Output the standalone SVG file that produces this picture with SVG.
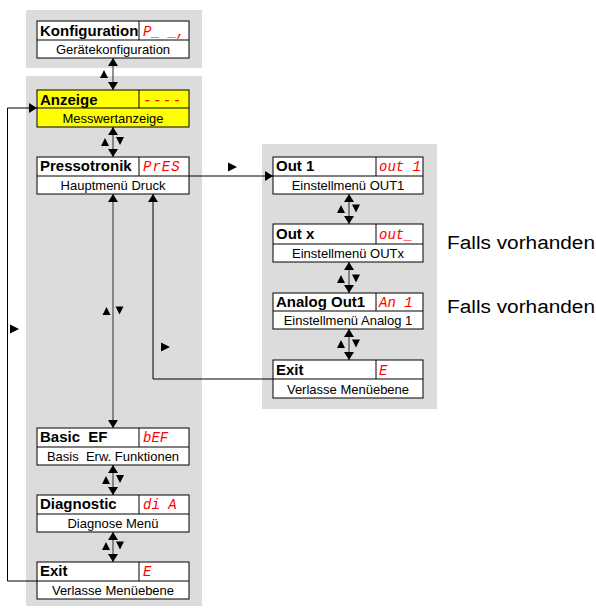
<svg xmlns="http://www.w3.org/2000/svg" width="596" height="614" viewBox="0 0 596 614">
<style>
.panel{fill:#dcdcdc}
.box{fill:#fff;stroke:#000;stroke-width:1}
.yel{fill:#ffff00;stroke:#000;stroke-width:1}
.div{stroke:#000;stroke-width:1;fill:none}
.t{font-family:"Liberation Sans",Arial,sans-serif;font-weight:bold;font-size:15px;fill:#000;white-space:pre}
.s{font-family:"Liberation Sans",Arial,sans-serif;font-size:13px;fill:#000;text-anchor:middle;white-space:pre}
.r{font-family:"Liberation Mono","DejaVu Sans Mono",monospace;font-style:italic;font-size:14px;fill:#ff0000;white-space:pre}
.note{font-family:"Liberation Sans",Arial,sans-serif;font-size:18px;fill:#000}
.vl{stroke:#555;stroke-width:1.3;fill:none}
.ln{stroke:#000;stroke-width:1;fill:none}
.tri{fill:#000}
</style>
<defs>
<marker id="ah" viewBox="0 0 8 10" refX="8" refY="5" markerWidth="8" markerHeight="10" markerUnits="userSpaceOnUse" orient="auto-start-reverse">
<path d="M0,0 L8,5 L0,10 z" fill="#000"/>
</marker>
<path id="tu" d="M0,-4 L4,4 L-4,4 z"/>
<path id="td" d="M0,4 L4,-4 L-4,-4 z"/>
<path id="tr" d="M-4,-4.5 L5,0 L-4,4.5 z"/>
</defs>

<rect class="panel" x="26" y="10" width="176" height="58"/>
<rect class="panel" x="26" y="76" width="176" height="530"/>
<rect class="panel" x="262" y="144" width="175" height="265"/>

<g id="connectors">
<line class="vl" x1="113" y1="58" x2="113" y2="90" marker-start="url(#ah)" marker-end="url(#ah)"/>
<line class="vl" x1="113" y1="127" x2="113" y2="157" marker-start="url(#ah)" marker-end="url(#ah)"/>
<line class="vl" x1="113" y1="194" x2="113" y2="428" marker-start="url(#ah)" marker-end="url(#ah)"/>
<line class="vl" x1="113" y1="465" x2="113" y2="495" marker-start="url(#ah)" marker-end="url(#ah)"/>
<line class="vl" x1="113" y1="532" x2="113" y2="562" marker-start="url(#ah)" marker-end="url(#ah)"/>
<line class="vl" x1="349" y1="194" x2="349" y2="224" marker-start="url(#ah)" marker-end="url(#ah)"/>
<line class="vl" x1="349" y1="262" x2="349" y2="293" marker-start="url(#ah)" marker-end="url(#ah)"/>
<line class="vl" x1="349" y1="329" x2="349" y2="360" marker-start="url(#ah)" marker-end="url(#ah)"/>
<line class="ln" x1="189" y1="176" x2="273" y2="176" marker-end="url(#ah)"/>
<polyline class="ln" points="273,379 153,379 153,194" marker-end="url(#ah)"/>
<polyline class="ln" points="37,581 7.5,581 7.5,108 37,108" marker-end="url(#ah)"/>
<g class="tri">
<use href="#tu" x="104" y="74"/>
<use href="#tu" x="105" y="142"/><use href="#td" x="120" y="141"/>
<use href="#tu" x="106.5" y="311"/><use href="#td" x="119.5" y="310.5"/>
<use href="#tu" x="106" y="480"/><use href="#td" x="120" y="479"/>
<use href="#tu" x="106" y="546"/><use href="#td" x="120" y="545.5"/>
<use href="#tu" x="341" y="209"/><use href="#td" x="356" y="208.5"/>
<use href="#tu" x="341" y="279"/><use href="#td" x="356" y="278.5"/>
<use href="#tu" x="341" y="344"/><use href="#td" x="356" y="343.5"/>
<use href="#tr" x="232" y="167"/>
<use href="#tr" x="165" y="347"/>
<use href="#tr" x="14" y="329"/>
</g>
</g>

<g id="konfiguration">
<rect class="box" x="37" y="21" width="152" height="37"/>
<path class="div" d="M37,40H189M139,21V40"/>
<text class="t" x="40" y="35.5">Konfiguration</text>
<text class="r" x="143" y="35.5">P_ _,</text>
<text class="s" x="113" y="54">Gerätekonfiguration</text>
</g>

<g id="anzeige">
<rect class="yel" x="37" y="90" width="152" height="37"/>
<path class="div" d="M37,108H189M139,90V108"/>
<text class="t" x="40" y="104.5">Anzeige</text>
<text class="r" x="143" y="104.5" letter-spacing="1.5">----</text>
<text class="s" x="113" y="122.5">Messwertanzeige</text>
</g>

<g id="pressotronik">
<rect class="box" x="37" y="157" width="152" height="37"/>
<path class="div" d="M37,176H189M139,157V176"/>
<text class="t" x="40" y="171">Pressotronik</text>
<text class="r" x="143" y="171" letter-spacing="1">PrES</text>
<text class="s" x="113" y="190">Hauptmenü Druck</text>
</g>

<g id="basic-ef">
<rect class="box" x="37" y="428" width="152" height="37"/>
<path class="div" d="M37,447H189M139,428V447"/>
<text class="t" x="40" y="442">Basic  EF</text>
<text class="r" x="143" y="442">bEF</text>
<text class="s" x="113" y="461">Basis  Erw. Funktionen</text>
</g>

<g id="diagnostic">
<rect class="box" x="37" y="495" width="152" height="37"/>
<path class="div" d="M37,514H189M139,495V514"/>
<text class="t" x="40" y="509">Diagnostic</text>
<text class="r" x="143" y="509">di A</text>
<text class="s" x="113" y="528">Diagnose Menü</text>
</g>

<g id="exit-main">
<rect class="box" x="37" y="562" width="152" height="37"/>
<path class="div" d="M37,581H189M139,562V581"/>
<text class="t" x="40" y="576">Exit</text>
<text class="r" x="143" y="576">E</text>
<text class="s" x="113" y="595">Verlasse Menüebene</text>
</g>

<g id="out1">
<rect class="box" x="273" y="157" width="150" height="37"/>
<path class="div" d="M273,176H423M376,157V176"/>
<text class="t" x="276" y="171">Out 1</text>
<text class="r" x="379" y="171">out 1</text>
<text class="s" x="348" y="190">Einstellmenü OUT1</text>
</g>

<g id="outx">
<rect class="box" x="273" y="224" width="150" height="38"/>
<path class="div" d="M273,244H423M376,224V244"/>
<text class="t" x="276" y="238.5">Out x</text>
<text class="r" x="379" y="238.5">out_</text>
<text class="s" x="348" y="257.5">Einstellmenü OUTx</text>
</g>

<g id="analog-out1">
<rect class="box" x="273" y="293" width="150" height="36"/>
<path class="div" d="M273,311H423M376,293V311"/>
<text class="t" x="276" y="307">Analog Out1</text>
<text class="r" x="379" y="307">An 1</text>
<text class="s" x="348" y="325">Einstellmenü Analog 1</text>
</g>

<g id="exit-sub">
<rect class="box" x="273" y="360" width="150" height="38"/>
<path class="div" d="M273,379H423M376,360V379"/>
<text class="t" x="276" y="374.5">Exit</text>
<text class="r" x="379" y="374.5">E</text>
<text class="s" x="348" y="393.5">Verlasse Menüebene</text>
</g>

<text class="note" x="447" y="249" textLength="148" lengthAdjust="spacingAndGlyphs">Falls vorhanden</text>
<text class="note" x="447" y="313" textLength="148" lengthAdjust="spacingAndGlyphs">Falls vorhanden</text>
</svg>
